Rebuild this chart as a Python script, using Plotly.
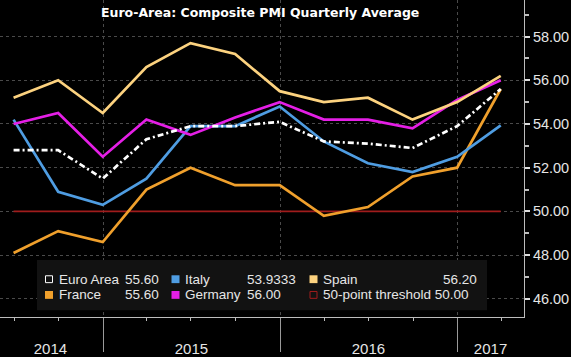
import plotly.graph_objects as go

# ---------------- data ----------------
quarters = ['2014-06-30', '2014-09-30', '2014-12-31', '2015-03-31', '2015-06-30', '2015-09-30',
            '2015-12-31', '2016-03-31', '2016-06-30', '2016-09-30', '2016-12-31', '2017-03-31']
euro_area = [52.8, 52.8, 51.5, 53.3, 53.9, 53.9, 54.1, 53.2, 53.1, 52.9, 53.9, 55.6]
france = [48.1, 49.1, 48.6, 51.0, 52.0, 51.2, 51.2, 49.8, 50.2, 51.6, 52.0, 55.6]
italy = [54.2, 50.9, 50.3, 51.5, 53.9, 53.9, 54.8, 53.2, 52.2, 51.8, 52.5, 53.9333]
germany = [54.0, 54.5, 52.5, 54.2, 53.5, 54.3, 55.0, 54.2, 54.2, 53.8, 55.1, 56.0]
spain = [55.2, 56.0, 54.5, 56.6, 57.7, 57.2, 55.5, 55.0, 55.2, 54.2, 55.0, 56.2]
threshold = [50.0, 50.0, 50.0, 50.0, 50.0, 50.0, 50.0, 50.0, 50.0, 50.0, 50.0, 50.0]

y_tickvals = [46, 48, 50, 52, 54, 56, 58]
y_ticktext = ['46.00', '48.00', '50.00', '52.00', '54.00', '56.00', '58.00']
year_bounds = ['2015-01-01', '2016-01-01', '2017-01-01']
year_labels = ['2014', '2015', '2016', '2017']
year_label_pos = ['2014-09-14', '2015-07-02', '2016-07-01', '2017-03-10']

title_text = 'Euro-Area: Composite PMI Quarterly Average'
legend_names = ['Euro Area', 'France', 'Italy', 'Germany', 'Spain', '50-point threshold 50.00']
legend_values = ['55.60', '55.60', '53.9333', '56.00', '56.20', '']

# ---------------- styles ----------------
C_EURO = '#ffffff'
C_FRANCE = '#f0a02c'
C_ITALY = '#4f9de2'
C_GERMANY = '#e51fe6'
C_SPAIN = '#fcd27f'
C_THR = '#a01c1c'
TXT = '#e6e6e6'
GRID = '#4a4a4a'
FONT = 'Liberation Sans, Arial, sans-serif'

X_RANGE = ['2014-06-02', '2017-05-18']
Y_RANGE = [45.17, 59.67]

PW, PH = 524.0, 323.0


def px(x):
    return x / PW


def py(y):
    return 1 - y / PH


fig = go.Figure()

series = [
    ('50-point threshold', threshold, C_THR, 1.6, 'solid'),
    ('France', france, C_FRANCE, 2.7, 'solid'),
    ('Italy', italy, C_ITALY, 2.7, 'solid'),
    ('Germany', germany, C_GERMANY, 2.7, 'solid'),
    ('Spain', spain, C_SPAIN, 2.7, 'solid'),
    ('Euro Area', euro_area, C_EURO, 2.7, '6px,3px,2px,3px'),
]
for name, vals, col, w, dash in series:
    fig.add_trace(go.Scatter(x=quarters, y=vals, mode='lines', name=name,
                             line=dict(color=col, width=w, dash=dash),
                             showlegend=False, hoverinfo='skip'))

# invisible trace on the year-label axis
fig.add_trace(go.Scatter(x=quarters, y=threshold, xaxis='x2', mode='lines',
                         line=dict(color='rgba(0,0,0,0)'), showlegend=False, hoverinfo='skip'))

# ---------------- legend (box, swatches, text) ----------------
shapes = [dict(type='rect', xref='paper', yref='paper', x0=px(37), x1=px(487), y0=py(316), y1=py(265),
               fillcolor='#121212', line=dict(width=0), layer='above')]
annotations = []

cols = [(45, 56.5, 122.5), (45, 56.5, 122.5), (171.5, 183, 244.5), (171.5, 183, 244.5),
        (309.5, 320.5, None), (309.5, 320.5, None)]
rows = [284.5, 300.5, 284.5, 300.5, 284.5, 300.5]
sw_colors = [C_EURO, C_FRANCE, C_ITALY, C_GERMANY, C_SPAIN, C_THR]
hollow = [True, False, False, False, False, True]

for i, name in enumerate(legend_names):
    sx, tx, vx = cols[i]
    ry = rows[i]
    if hollow[i]:
        shapes.append(dict(type='rect', xref='paper', yref='paper',
                           x0=px(sx + 0.5), x1=px(sx + 7.5), y0=py(ry + 3.5), y1=py(ry - 3.5),
                           fillcolor='rgba(0,0,0,0)', line=dict(color=sw_colors[i], width=1), layer='above'))
    else:
        shapes.append(dict(type='rect', xref='paper', yref='paper',
                           x0=px(sx), x1=px(sx + 8), y0=py(ry + 4), y1=py(ry - 4),
                           fillcolor=sw_colors[i], line=dict(width=0), layer='above'))
    annotations.append(dict(text=name, xref='paper', yref='paper', x=px(tx), y=py(ry),
                            xanchor='left', yanchor='middle', showarrow=False,
                            font=dict(family=FONT, size=13.5, color=TXT)))
    val = legend_values[i]
    if val:
        if vx is None:
            annotations.append(dict(text=val, xref='paper', yref='paper', x=px(479), y=py(ry),
                                    xanchor='right', yanchor='middle', showarrow=False,
                                    font=dict(family=FONT, size=13.5, color=TXT)))
        else:
            annotations.append(dict(text=val, xref='paper', yref='paper', x=px(vx), y=py(ry),
                                    xanchor='left', yanchor='middle', showarrow=False,
                                    font=dict(family=FONT, size=13.5, color=TXT)))

# title
annotations.append(dict(text='<b>' + title_text + '</b>', xref='paper', yref='paper',
                        x=px(260), y=py(12.5), xanchor='center', yanchor='middle', showarrow=False,
                        font=dict(family='DejaVu Sans, Verdana, sans-serif', size=12.5, color='#ffffff')))

fig.update_layout(
    width=571, height=357,
    margin=dict(l=0, r=47, t=0, b=34),
    paper_bgcolor='#000000', plot_bgcolor='#000000',
    shapes=shapes, annotations=annotations,
    showlegend=False, hovermode=False,
    xaxis=dict(type='date', range=X_RANGE, tickmode='array', tickvals=year_bounds,
               showticklabels=False, ticks='outside', ticklen=34, tickwidth=1, tickcolor='#9a9a9a',
               showgrid=True, gridcolor=GRID, griddash='dot', gridwidth=1,
               showline=True, linecolor='#bdbdbd', linewidth=1, zeroline=False,
               minor=dict(tickmode='array',
                          tickvals=['2014-07-01', '2014-10-01', '2015-04-01', '2015-07-01', '2015-10-01',
                                    '2016-04-01', '2016-07-01', '2016-10-01', '2017-04-01'],
                          ticks='outside', ticklen=3, tickcolor='#bdbdbd', showgrid=False)),
    xaxis2=dict(type='date', range=X_RANGE, overlaying='x', side='bottom', anchor='y',
                tickmode='array', tickvals=year_label_pos, ticktext=year_labels,
                ticks='outside', ticklen=18, tickcolor='rgba(0,0,0,0)',
                showgrid=False, showline=False, zeroline=False,
                tickfont=dict(family=FONT, size=15, color=TXT)),
    yaxis=dict(range=Y_RANGE, side='right', tickmode='array', tickvals=y_tickvals, ticktext=y_ticktext,
               ticks='outside', ticklen=5, tickwidth=2, tickcolor='#dddddd',
               showgrid=True, gridcolor=GRID, griddash='dot', gridwidth=1,
               showline=True, linecolor='#bdbdbd', linewidth=1, zeroline=False,
               tickfont=dict(family=FONT, size=14.5, color=TXT),
               minor=dict(dtick=1, tick0=45, ticks='outside', ticklen=4, tickcolor='#bdbdbd', showgrid=False)),
)

fig.write_html('out.html', config={'displayModeBar': False, 'staticPlot': True},
               post_script="document.body.style.margin='0';document.body.style.overflow='hidden';")
